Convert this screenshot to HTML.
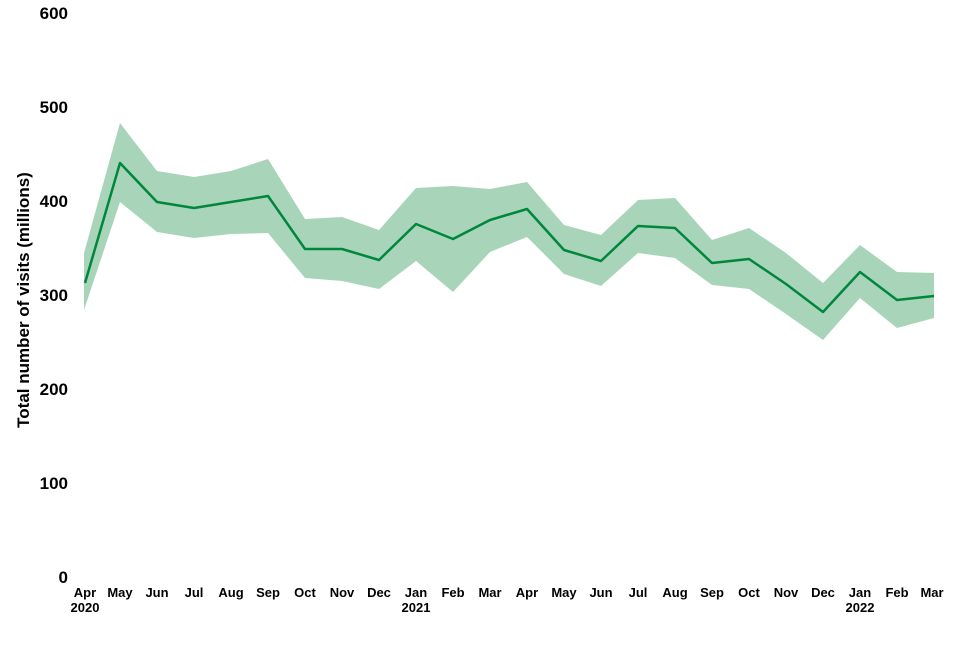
<!DOCTYPE html>
<html><head><meta charset="utf-8"><style>
body{margin:0;background:#fff;width:960px;height:640px;overflow:hidden}
svg text{font-family:"Liberation Sans",Arial,sans-serif;font-weight:bold;fill:#000}
</style></head><body>
<svg width="960" height="640" viewBox="0 0 960 640">
<polygon fill="#a8d5ba" points="84,253 120,123 157,171 194,177 231,171 268,159 305,219 342,217 379,230 416,188 453,186 490,189 527,182 564,225 601,235 638,200 675,198 712,240 749,228 786,253 823,283 860,245 897,272 934,273 934,318 897,328 860,298 823,340 786,314 749,289 712,285 675,258 638,253 601,286 564,274 527,237 490,252 453,292 416,261 379,289 342,281 305,278 268,233 231,234 194,238 157,232 120,202 84,310"/>
<polyline fill="none" stroke="#00873c" stroke-width="2.5" stroke-linejoin="round" points="85,283 120,163 157,202 194,208 231,202 268,196 305,249 342,249 379,260 416,224 453,239 490,220 527,209 564,250 601,261 638,226 675,228 712,263 749,259 786,284 823,312 860,272 897,300 934,296"/>
<g font-size="17" text-anchor="end">
<text x="68" y="583">0</text><text x="68" y="489">100</text><text x="68" y="395">200</text><text x="68" y="301">300</text><text x="68" y="207">400</text><text x="68" y="113">500</text><text x="68" y="19">600</text>
</g>
<text font-size="17" transform="translate(29,300) rotate(-90)" text-anchor="middle">Total number of visits (millions)</text>
<g font-size="13" text-anchor="middle">
<text x="85" y="597">Apr</text><text x="85" y="612">2020</text>
<text x="120" y="597">May</text><text x="157" y="597">Jun</text><text x="194" y="597">Jul</text><text x="231" y="597">Aug</text><text x="268" y="597">Sep</text><text x="305" y="597">Oct</text><text x="342" y="597">Nov</text><text x="379" y="597">Dec</text>
<text x="416" y="597">Jan</text><text x="416" y="612">2021</text>
<text x="453" y="597">Feb</text><text x="490" y="597">Mar</text><text x="527" y="597">Apr</text><text x="564" y="597">May</text><text x="601" y="597">Jun</text><text x="638" y="597">Jul</text><text x="675" y="597">Aug</text><text x="712" y="597">Sep</text><text x="749" y="597">Oct</text><text x="786" y="597">Nov</text><text x="823" y="597">Dec</text>
<text x="860" y="597">Jan</text><text x="860" y="612">2022</text>
<text x="897" y="597">Feb</text><text x="932" y="597">Mar</text>
</g>
</svg>
</body></html>
